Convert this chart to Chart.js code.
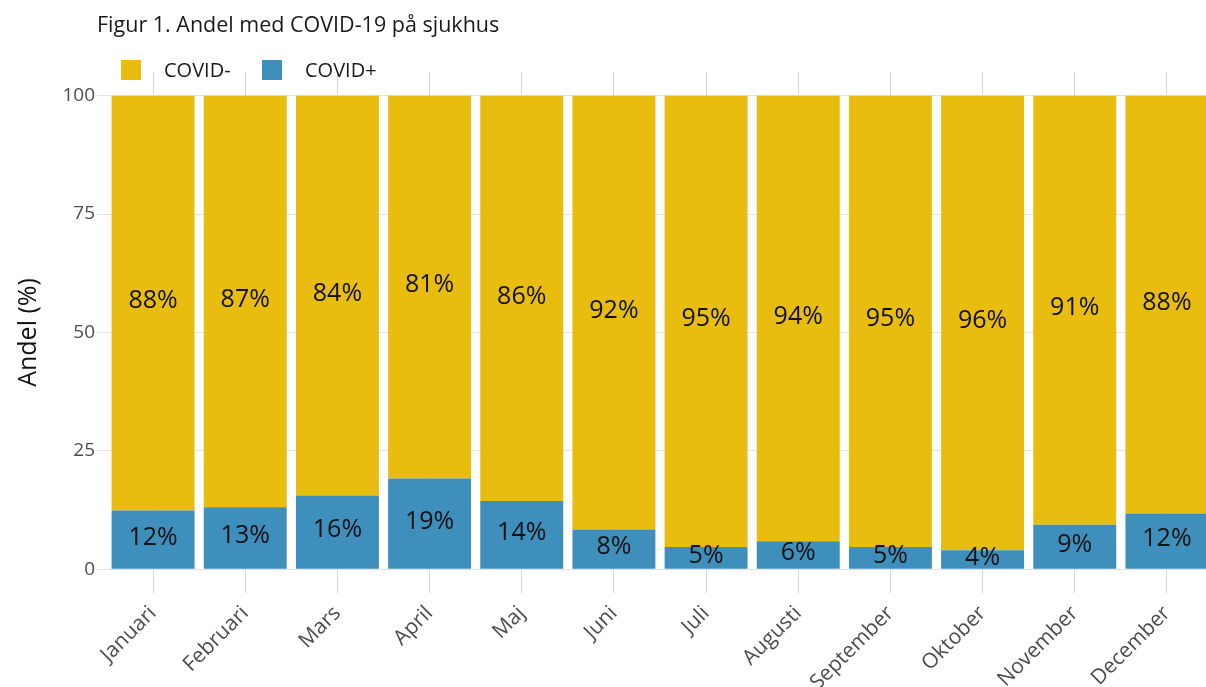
<!DOCTYPE html>
<html><head><meta charset="utf-8">
<script src="https://cdn.jsdelivr.net/npm/chart.js@4"></script>
<style>html,body{margin:0;padding:0;overflow:hidden;background:#fff}#wrap{width:1213px;height:687px}</style>
</head><body><div id="wrap"><canvas id="c" width="1213" height="687" style="width:1213px;height:687px"></canvas></div>
<script>
const months = ['Januari','Februari','Mars','April','Maj','Juni','Juli','Augusti','September','Oktober','November','December'];
const covidNeg = [87.6, 86.9, 84.4, 80.8, 85.6, 91.6, 95.3, 94.1, 95.3, 96.0, 90.6, 88.2];
const covidPos = [12.4, 13.1, 15.6, 19.2, 14.4, 8.4, 4.7, 5.9, 4.7, 4.0, 9.4, 11.8];
const yTicks = [0, 25, 50, 75, 100];
const titleText = 'Figur 1. Andel med COVID-19 på sjukhus';
const FONT = "'Open Sans', sans-serif";

const labelPlugin = {
  id: 'segLabels',
  afterDatasetsDraw(chart) {
    const ctx = chart.ctx;
    ctx.save();
    ctx.font = '25px ' + FONT;
    ctx.fillStyle = '#111';
    ctx.textAlign = 'center';
    ctx.textBaseline = 'middle';
    chart.data.datasets.forEach((ds, i) => {
      const meta = chart.getDatasetMeta(i);
      meta.data.forEach((el, j) => {
        const cy = (el.y + el.base) / 2 - 2;
        ctx.fillText(Math.round(ds.data[j]) + '%', el.x, cy);
      });
    });
    ctx.restore();
  }
};

const headerPlugin = {
  id: 'header',
  afterDraw(chart) {
    const ctx = chart.ctx;
    ctx.save();
    ctx.font = '21.5px ' + FONT;
    ctx.fillStyle = '#1a1a1a';
    ctx.textAlign = 'left';
    ctx.textBaseline = 'alphabetic';
    ctx.fillText(titleText, 97, 32);
    const order = [1, 0];
    const boxX = [121, 262];
    ctx.font = '20px ' + FONT;
    ctx.textBaseline = 'middle';
    order.forEach((di, k) => {
      const ds = chart.data.datasets[di];
      ctx.fillStyle = ds.backgroundColor;
      ctx.fillRect(boxX[k], 60, 20, 20);
      ctx.fillStyle = '#1a1a1a';
      ctx.fillText(ds.label, boxX[k] + 43, 71);
    });
    ctx.restore();
  }
};

new Chart(document.getElementById('c'), {
  type: 'bar',
  data: {
    labels: months,
    datasets: [
      { label: 'COVID+', data: covidPos, backgroundColor: '#3F8FBD', barPercentage: 0.9, categoryPercentage: 1.0 },
      { label: 'COVID-', data: covidNeg, backgroundColor: '#E8BD10', barPercentage: 0.9, categoryPercentage: 1.0 }
    ]
  },
  options: {
    responsive: false,
    animation: false,
    devicePixelRatio: 1,
    layout: { padding: { top: 72, left: 0, right: 0, bottom: 0 } },
    plugins: { legend: { display: false }, title: { display: false }, tooltip: { enabled: false } },
    scales: {
      x: {
        stacked: true,
        grid: { offset: false, color: '#d6d6d6', drawTicks: false, tickLength: 0 },
        border: { display: false },
        ticks: { autoSkip: false, maxRotation: 45, minRotation: 45, padding: 8, color: '#4d4d4d', font: { family: FONT, size: 21 } },
        afterFit(s) { s.height = 94; }
      },
      y: {
        stacked: true,
        min: -5, max: 105,
        afterBuildTicks(s) { s.ticks = yTicks.map(v => ({ value: v })); },
        grid: { color: '#e2e2e2', tickLength: 10 },
        border: { display: false },
        ticks: { padding: 2, color: '#4d4d4d', font: { family: FONT, size: 19 } },
        title: { display: true, text: 'Andel (%)', color: '#111', font: { family: FONT, size: 25 }, padding: { top: 14, bottom: 0 } },
        afterFit(s) { s.width = 107; }
      }
    }
  },
  plugins: [labelPlugin, headerPlugin]
});
</script></body></html>
